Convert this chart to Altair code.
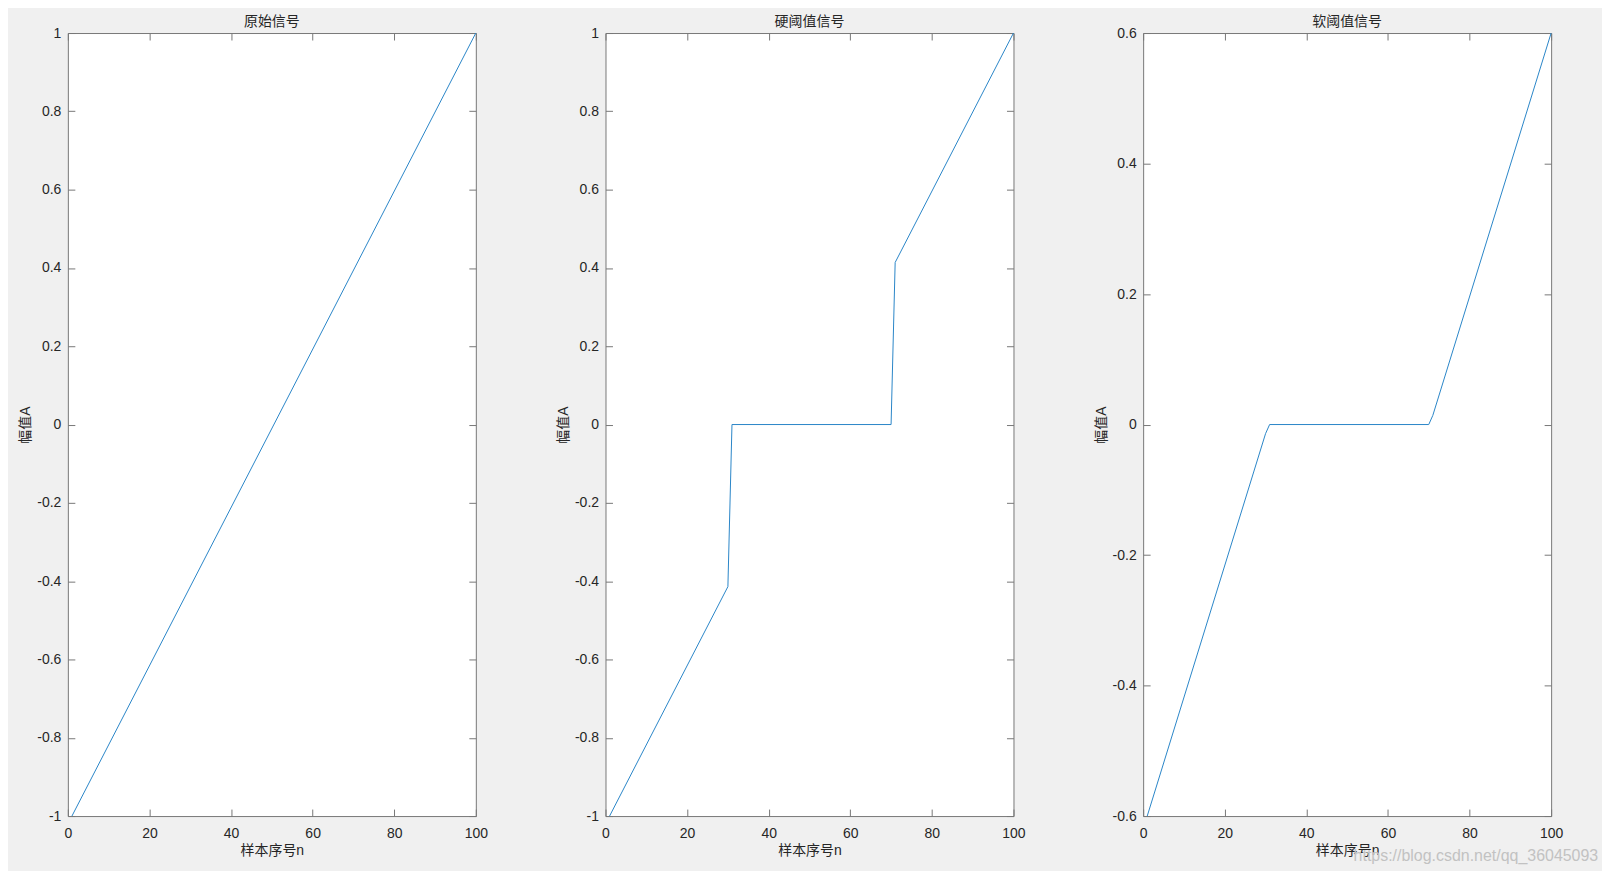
import altair as alt
import pandas as pd

titles = ["原始信号", "硬阈值信号", "软阈值信号"]
x_label = "样本序号n"
y_label = "幅值A"
watermark = "https://blog.csdn.net/qq_36045093"

n_orig = [1, 100]
a_orig = [-1.0, 1.0]
n_hard = [1, 30, 31, 70, 71, 100]
a_hard = [-1.0, -0.414, 0.0, 0.0, 0.414, 1.0]
n_soft = [1, 30, 31, 70, 71, 100]
a_soft = [-0.6, -0.014, 0.0, 0.0, 0.014, 0.6]

x_domain = [0, 100]
x_ticks = [0, 20, 40, 60, 80, 100]
y_domain_full = [-1, 1]
y_ticks_full = [-1, -0.8, -0.6, -0.4, -0.2, 0, 0.2, 0.4, 0.6, 0.8, 1]
y_domain_soft = [-0.6, 0.6]
y_ticks_soft = [-0.6, -0.4, -0.2, 0, 0.2, 0.4, 0.6]

LINE = "#2a86c8"
AX = "#777777"
TXT = "#262626"
FONT = "Liberation Sans, Noto Sans CJK SC"
LAB = "'' + datum.value"


def label_axis(orient, values, title, lpad, tpad):
    return alt.Axis(orient=orient, values=values, labelExpr=LAB, title=title,
                    domain=False, ticks=False, tickSize=0, grid=False,
                    labelPadding=lpad, titlePadding=tpad, labelFontSize=14,
                    titleFontSize=14, labelColor=TXT, titleColor=TXT,
                    titleFontWeight="normal", labelFont=FONT, titleFont=FONT,
                    labelFlush=False, labelOverlap=False)


def tick_axis(orient, values):
    return alt.Axis(orient=orient, values=values, labels=False, ticks=True,
                    tickSize=7, tickColor=AX, tickWidth=1, domain=False,
                    grid=False, title=None, offset=-7)


def panel(n, a, title, ydom, yticks, width, extra=None):
    df = pd.DataFrame({"n": n, "A": a})
    xs = alt.Scale(domain=x_domain, nice=False, zero=False)
    ys = alt.Scale(domain=ydom, nice=False, zero=False)
    main = alt.Chart(df).mark_line(color=LINE, strokeWidth=1).encode(
        x=alt.X("n:Q", scale=xs, axis=label_axis("bottom", x_ticks, x_label, 10, 4)),
        y=alt.Y("A:Q", scale=ys, axis=label_axis("left", yticks, y_label, 7, 4)),
    )
    tb = alt.Chart(df).mark_line(opacity=0).encode(
        x=alt.X("n:Q", scale=xs, axis=tick_axis("bottom", x_ticks)),
        y=alt.Y("A:Q", scale=ys, axis=tick_axis("left", yticks)),
    )
    tt = alt.Chart(df).mark_line(opacity=0).encode(
        x=alt.X("n:Q", scale=xs, axis=tick_axis("top", x_ticks)),
        y=alt.Y("A:Q", scale=ys, axis=tick_axis("right", yticks)),
    )
    layers = [main, tb, tt]
    if extra is not None:
        layers.append(extra)
    return alt.layer(*layers).resolve_axis(x="independent", y="independent").properties(
        width=width, height=785,
        title=alt.Title(title, fontSize=14, fontWeight="normal", font=FONT, color=TXT, offset=-3),
    )


wm = alt.Chart(pd.DataFrame({"t": [watermark]})).mark_text(
    align="left", baseline="alphabetic", fontSize=16, font="Liberation Sans", color="#c2c2c2"
).encode(x=alt.value(211), y=alt.value(830), text="t:N")

p1 = panel(n_orig, a_orig, titles[0], y_domain_full, y_ticks_full, 409)
p2 = panel(n_hard, a_hard, titles[1], y_domain_full, y_ticks_full, 409)
p3 = panel(n_soft, a_soft, titles[2], y_domain_soft, y_ticks_soft, 409, extra=wm)

chart = alt.hconcat(p1, p2, p3, spacing=130, bounds="flush",
                    padding={"left": 10, "top": 5, "right": 2, "bottom": 5}).configure(
    background="#f0f0f0"
).configure_view(stroke=AX, strokeWidth=1, fill="white")

chart.save("out.html", embed_options={"renderer": "svg", "actions": False})
